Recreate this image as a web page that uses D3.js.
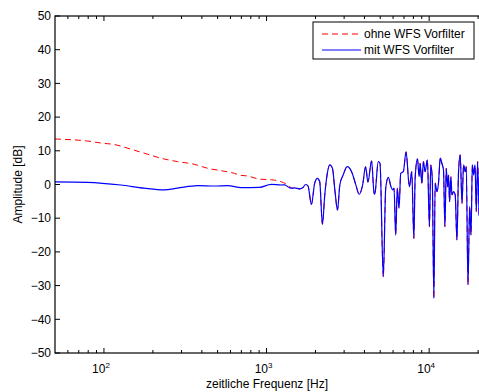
<!DOCTYPE html>
<html>
<head>
<meta charset="utf-8">
<script src="https://cdn.jsdelivr.net/npm/d3@7"></script>
<style>
  body { margin: 0; background: #fff; }
  svg { display: block; font-family: "Liberation Sans", Arial, Helvetica, sans-serif; }
</style>
</head>
<body>
<script>
// frequency response
// low-frequency part without prefilter (red dashed), merges with blue above ~1.45 kHz
const freqOhneLow = [50, 79, 100, 115, 146, 185, 224, 283, 359, 435, 525, 634, 681, 767, 905, 1069, 1120, 1233, 1324, 1446];
const ampOhneLow  = [13.5, 12.9, 12.2, 11.9, 10.5, 9.0, 7.8, 6.8, 6.0, 4.8, 4.1, 3.3, 2.8, 2.5, 1.6, 1.4, 1.3, 0.8, 0.15, -1.1];

// with prefilter (blue), full range
const freqMit = [50, 79, 127, 177, 235, 283, 377, 478, 577, 698, 905, 1069, 1233, 1291, 1387, 1446,
  1489, 1598, 1667, 1740, 1798, 1888, 1977, 2055, 2123, 2206, 2280, 2355, 2448, 2542, 2637, 2730,
  2823, 2958, 3133, 3334, 3541, 3715, 3899, 4067, 4201, 4426, 4592, 4642, 4864, 4984, 5224, 5405,
  5610, 5825, 5966, 6081, 6226, 6370, 6526, 6686, 6937, 7210, 7557, 7816, 8054, 8199, 8470, 8675,
  8799, 9016, 9222, 9444, 9754, 10040, 10230, 10450, 10690, 10890, 11160, 11410, 11700, 11970,
  12250, 12500, 12740, 12970, 13160, 13350, 13610, 13810, 14130, 14460, 14820, 15160, 15520,
  15920, 16280, 16680, 16910, 17330, 17740, 18090, 18430, 18770, 19140, 19500, 19860, 20260];
const ampMit = [0.8, 0.65, -0.15, -1.1, -1.6, -1.1, -0.35, -0.45, -0.35, -0.95, -0.85, 0.05, -0.15, -0.1, -1.0, -1.1,
  -1.0, -1.3, -1.0, 0.0, -0.4, -5.9, 0.4, 1.8, 0.8, -11.8, -3.1, 2.8, 5.8, 4.8, -2.1, -7.6,
  -0.1, 2.8, 5.3, 3.8, -0.1, -2.9, -0.1, 5.3, 0.7, 7.0, -2.9, -2.6, 6.8, 6.3, -27.4, -1.1,
  2.1, -0.7, -1.6, -1.1, -15.0, -1.1, -7.0, 3.3, 3.8, 9.7, -0.7, 3.8, -16.0, 1.8, 7.6, 2.3,
  6.3, 0.4, 6.8, 3.8, 7.3, -12.5, 5.8, 1.8, -33.8, 0.4, -2.1, 0.4, 7.8, 6.3, 4.3, -12.5,
  4.8, -0.7, 2.8, -5.1, 2.3, -3.1, -2.1, -3.1, -16.5, 3.8, 8.8, -5.6, 5.8, 3.8, 5.3, -29.8,
  -6.5, -15.0, 5.8, 2.8, 5.8, -8.0, 6.8, -9.3];

const yTicks = [-50, -40, -30, -20, -10, 0, 10, 20, 30, 40, 50];
const xMajor = [100, 1000, 10000];
const xMinor = [60, 70, 80, 90, 200, 300, 400, 500, 600, 700, 800, 900,
  2000, 3000, 4000, 5000, 6000, 7000, 8000, 9000, 20000];

const seriesNames = ["ohne WFS Vorfilter", "mit WFS Vorfilter"];

const W = 479, H = 392;
const plot = {left: 55, top: 16, right: 485, bottom: 353};

const svg = d3.select("body").append("svg")
  .attr("width", W).attr("height", H);

const x = d3.scaleLog().domain([50, 22050]).range([plot.left, plot.right]);
const y = d3.scaleLinear().domain([-50, 50]).range([plot.bottom, plot.top]);

svg.append("defs").append("clipPath").attr("id", "clip")
  .append("rect")
  .attr("x", plot.left).attr("y", plot.top)
  .attr("width", plot.right - plot.left).attr("height", plot.bottom - plot.top);

// red series = own low part + shared high part
const ohne = freqOhneLow.map((f, i) => [f, ampOhneLow[i]])
  .concat(freqMit.map((f, i) => [f, ampMit[i]]).filter(d => d[0] > 1446));
const mit = freqMit.map((f, i) => [f, ampMit[i]]);

const line = d3.line()
  .x(d => x(d[0]))
  .y(d => y(d[1]))
  .curve(d3.curveMonotoneX);

const g = svg.append("g").attr("clip-path", "url(#clip)");
g.append("path").datum(ohne)
  .attr("d", line)
  .attr("fill", "none")
  .attr("stroke", "#ff0000")
  .attr("stroke-width", 1)
  .attr("stroke-dasharray", "6,4");
g.append("path").datum(mit)
  .attr("d", line)
  .attr("fill", "none")
  .attr("stroke", "#0000ff")
  .attr("stroke-width", 1.2);

// box
svg.append("rect")
  .attr("x", plot.left).attr("y", plot.top)
  .attr("width", plot.right - plot.left).attr("height", plot.bottom - plot.top)
  .attr("fill", "none").attr("stroke", "#000").attr("stroke-width", 1.2);

// y ticks (inward, left and right)
svg.append("g").selectAll("line").data(yTicks).join("line")
  .attr("x1", plot.left).attr("x2", plot.left + 5)
  .attr("y1", d => y(d)).attr("y2", d => y(d))
  .attr("stroke", "#000");
svg.append("g").selectAll("text").data(yTicks).join("text")
  .attr("x", plot.left - 4).attr("y", d => y(d))
  .attr("dy", "0.35em")
  .attr("text-anchor", "end")
  .attr("font-size", 12)
  .text(d => d < 0 ? "\u2212" + Math.abs(d) : d);

// x ticks (inward, bottom and top)
const xt = svg.append("g");
xt.selectAll(".maj").data(xMajor).join("path")
  .attr("d", d => `M${x(d)},${plot.bottom}v-5M${x(d)},${plot.top}v5`)
  .attr("stroke", "#000");
xt.selectAll(".min").data(xMinor).join("path")
  .attr("d", d => `M${x(d)},${plot.bottom}v-3M${x(d)},${plot.top}v3`)
  .attr("stroke", "#000");

const xl = svg.append("g").selectAll("text").data(xMajor).join("text")
  .attr("x", d => x(d) - 3).attr("y", plot.bottom + 20)
  .attr("text-anchor", "middle")
  .attr("font-size", 12);
xl.append("tspan").text("10");
xl.append("tspan").attr("dy", -5).attr("font-size", 8).text(d => Math.round(Math.log10(d)));

// axis labels
svg.append("text")
  .attr("x", 267).attr("y", 388)
  .attr("text-anchor", "middle")
  .attr("font-size", 12)
  .text("zeitliche Frequenz [Hz]");
svg.append("text")
  .attr("transform", `translate(22,${y(0)}) rotate(-90)`)
  .attr("text-anchor", "middle")
  .attr("font-size", 12)
  .text("Amplitude [dB]");

// legend
const leg = svg.append("g");
leg.append("rect")
  .attr("x", 313).attr("y", 22).attr("width", 161).attr("height", 37)
  .attr("fill", "#fff").attr("stroke", "#000").attr("stroke-width", 1);
const styles = [{c: "#ff0000", dash: "6,4", w: 1}, {c: "#0000ff", dash: null, w: 1.2}];
seriesNames.forEach((name, i) => {
  const ly = 34 + i * 16;
  leg.append("line")
    .attr("x1", 322).attr("x2", 361).attr("y1", ly).attr("y2", ly)
    .attr("stroke", styles[i].c).attr("stroke-width", styles[i].w)
    .attr("stroke-dasharray", styles[i].dash);
  leg.append("text")
    .attr("x", 364).attr("y", ly).attr("dy", "0.35em")
    .attr("font-size", 12)
    .text(name);
});
</script>
</body>
</html>
